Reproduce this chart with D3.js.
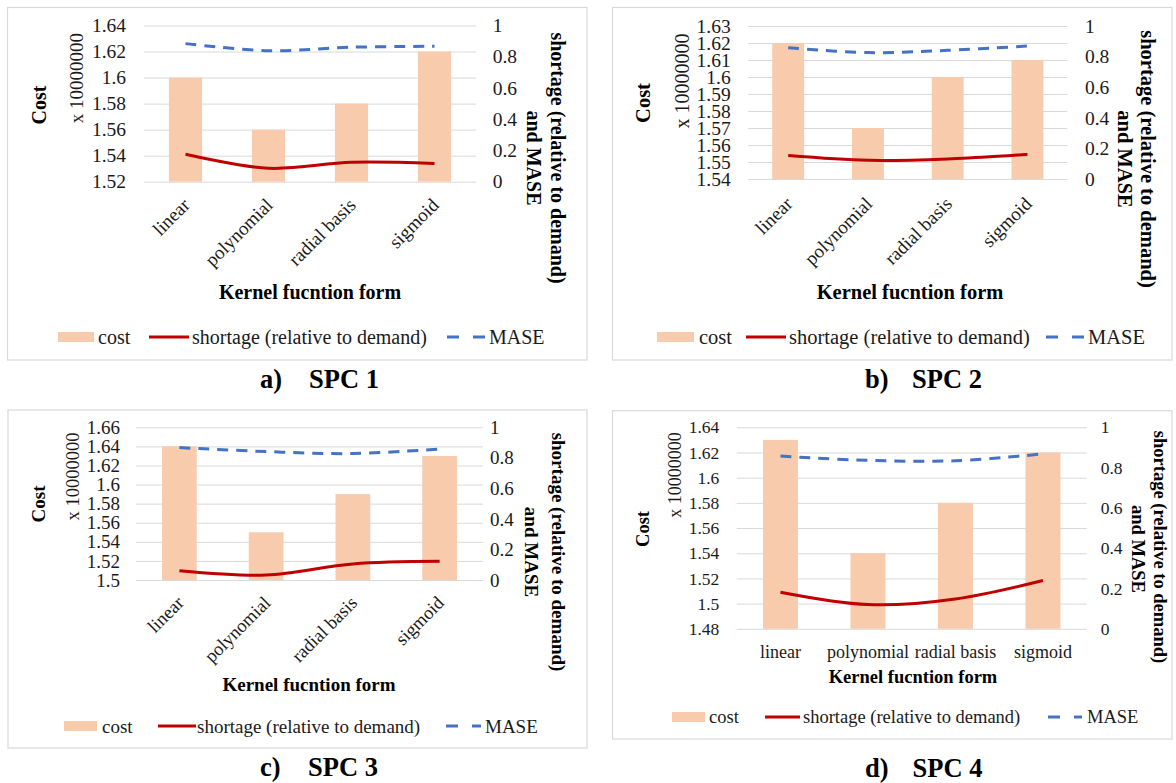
<!DOCTYPE html>
<html>
<head>
<meta charset="utf-8">
<script src="https://cdn.jsdelivr.net/npm/d3@7"></script>
<style>
  html, body { margin: 0; padding: 0; background: #ffffff; }
  svg { display: block; }
  text { font-family: "Liberation Serif", "Times New Roman", serif; }
</style>
</head>
<body>
<svg id="chart" width="1176" height="783"></svg>
<script>
// ---------------- DATA ----------------
const categories = ["linear", "polynomial", "radial basis", "sigmoid"];

const costA = [1.60, 1.56, 1.58, 1.62];
const shortageA = [0.176, 0.086, 0.124, 0.116];
const maseA = [0.884, 0.839, 0.861, 0.867];

const costB = [1.62, 1.57, 1.60, 1.61];
const shortageB = [0.153, 0.122, 0.131, 0.161];
const maseB = [0.858, 0.826, 0.841, 0.869];

const costC = [1.64, 1.55, 1.59, 1.63];
const shortageC = [0.061, 0.033, 0.105, 0.122];
const maseC = [0.867, 0.841, 0.828, 0.858];

const costD = [1.63, 1.54, 1.58, 1.62];
const shortageD = [0.181, 0.120, 0.148, 0.240];
const maseD = [0.857, 0.836, 0.834, 0.868];

const leftTicksA = [1.52, 1.54, 1.56, 1.58, 1.60, 1.62, 1.64];
const leftTicksB = [1.54, 1.55, 1.56, 1.57, 1.58, 1.59, 1.60, 1.61, 1.62, 1.63];
const leftTicksC = [1.50, 1.52, 1.54, 1.56, 1.58, 1.60, 1.62, 1.64, 1.66];
const leftTicksD = [1.48, 1.50, 1.52, 1.54, 1.56, 1.58, 1.60, 1.62, 1.64];
const rightTicks = [0, 0.2, 0.4, 0.6, 0.8, 1];

const captionLetters = ["a)", "b)", "c)", "d)"];
const captionNames = ["SPC 1", "SPC 2", "SPC 3", "SPC 4"];
const legendLabels = ["cost", "shortage (relative to demand)", "MASE"];
const costTitle = "Cost";
const unitTitle = "x 10000000";
const rightTitle1 = "shortage (relative to demand)";
const rightTitle2 = "and MASE";
const xTitle = "Kernel fucntion form";

// ---------------- LAYOUT (positions / styles) ----------------
const layouts = [
  { box: [7.5, 7.5, 587, 360], plot: [144, 476, 25.5, 181.7], leftLabX: 126, rightLabX: 492.7,
    cost: [39, 105], unit: [76, 78], rt1: [558, 158], rt2: [534, 158], xt: [310, 292],
    rotated: true, xlabDx: 5.5, xlabDy: 24.5,
    legendY: 337, leg: { sw: [58, 36], cost: 98, line: [149, 189], lineText: 192, dash: [447, 485], mase: 489 },
    cap: [260, 309, 379], fs: { tick: 19.5, unit: 19, legend: 20, title: 20, xlab: 19 } },
  { box: [612.5, 7.5, 1172, 360], plot: [748.3, 1067.3, 26, 179], leftLabX: 730.7, rightLabX: 1085,
    cost: [643, 103], unit: [681.7, 81], rt1: [1148.3, 159], rt2: [1125, 159], xt: [910, 292],
    rotated: true, xlabDx: 5.5, xlabDy: 26,
    legendY: 337, leg: { sw: [657, 37], cost: 699, line: [746, 786], lineText: 789, dash: [1046, 1084], mase: 1088 },
    cap: [865, 912, 379], fs: { tick: 19.5, unit: 20, legend: 20.5, title: 20.5, xlab: 19 } },
  { box: [8, 410, 587, 748], plot: [136, 483, 427.3, 580], leftLabX: 120, rightLabX: 490,
    cost: [38, 504], unit: [73, 476.5], rt1: [558, 552], rt2: [531, 552], xt: [309, 684],
    rotated: true, xlabDx: 5.5, xlabDy: 24,
    legendY: 726, leg: { sw: [64, 33], cost: 102, line: [158, 196], lineText: 197, dash: [446, 481], mase: 485 },
    cap: [260, 308, 767], fs: { tick: 19, unit: 18.5, legend: 19, title: 19, xlab: 18.5 } },
  { box: [612.5, 410.7, 1172, 739], plot: [736.7, 1086.7, 427.3, 628.8], leftLabX: 719.3, rightLabX: 1100.7,
    cost: [643, 529], unit: [675, 475], rt1: [1160, 547], rt2: [1138, 549], xt: [913, 677],
    rotated: false, xlabY: 651.7,
    legendY: 717, leg: { sw: [672, 33], cost: 709, line: [765, 800], lineText: 803, dash: [1048, 1082], mase: 1087 },
    cap: [865, 912.5, 768], fs: { tick: 17.5, unit: 18, legend: 18.5, title: 18.5, xlab: 18 } }
];

const panels = [
  { cost: costA, shortage: shortageA, mase: maseA, ticks: leftTicksA },
  { cost: costB, shortage: shortageB, mase: maseB, ticks: leftTicksB },
  { cost: costC, shortage: shortageC, mase: maseC, ticks: leftTicksC },
  { cost: costD, shortage: shortageD, mase: maseD, ticks: leftTicksD }
];

const COLORS = { bar: "#F8CBAD", red: "#C00000", blue: "#4472C4", grid: "#D9D9D9", border: "#D9D9D9", text: "#1a1a1a" };
const DASH = "11,8";

const svg = d3.select("#chart");
const fmtLeft = v => String(+v.toFixed(2));
const fmtRight = v => String(+v.toFixed(1));

panels.forEach((p, i) => {
  const L = layouts[i];
  const g = svg.append("g");

  // border
  g.append("rect")
    .attr("x", L.box[0]).attr("y", L.box[1])
    .attr("width", L.box[2] - L.box[0]).attr("height", L.box[3] - L.box[1])
    .attr("fill", "none").attr("stroke", COLORS.border).attr("stroke-width", 1.2);

  const [px0, px1, pyTop, pyBot] = L.plot;
  const x = d3.scaleBand().domain(categories).range([px0, px1]).paddingInner(0.6).paddingOuter(0.3);
  const yL = d3.scaleLinear().domain([p.ticks[0], p.ticks[p.ticks.length - 1]]).range([pyBot, pyTop]);
  const yR = d3.scaleLinear().domain([0, 1]).range([pyBot, pyTop]);

  // left axis with gridlines
  const axL = g.append("g").attr("transform", `translate(${px0},0)`)
    .call(d3.axisLeft(yL).tickValues(p.ticks).tickFormat(fmtLeft)
      .tickSize(-(px1 - px0)).tickPadding(px0 - L.leftLabX));
  axL.select(".domain").remove();
  axL.selectAll(".tick line").attr("stroke", COLORS.grid).attr("stroke-width", 1);
  axL.selectAll(".tick text").attr("font-size", L.fs.tick).attr("fill", COLORS.text)
    .style("font-family", '"Liberation Serif", "Times New Roman", serif');

  // right axis labels
  const axR = g.append("g").attr("transform", `translate(${px1},0)`)
    .call(d3.axisRight(yR).tickValues(rightTicks).tickFormat(fmtRight)
      .tickSize(0).tickPadding(L.rightLabX - px1));
  axR.select(".domain").remove();
  axR.selectAll(".tick line").remove();
  axR.selectAll(".tick text").attr("font-size", L.fs.tick).attr("fill", COLORS.text)
    .style("font-family", '"Liberation Serif", "Times New Roman", serif');

  // bars
  g.append("g").selectAll("rect").data(categories).join("rect")
    .attr("x", c => x(c))
    .attr("width", x.bandwidth())
    .attr("y", (c, k) => yL(p.cost[k]))
    .attr("height", (c, k) => yL(p.ticks[0]) - yL(p.cost[k]))
    .attr("fill", COLORS.bar);

  const cx = c => x(c) + x.bandwidth() / 2;
  const line = d3.line().curve(d3.curveCardinal.tension(0));

  // MASE dashed
  g.append("path")
    .attr("d", line(categories.map((c, k) => [cx(c), yR(p.mase[k])])))
    .attr("fill", "none").attr("stroke", COLORS.blue).attr("stroke-width", 3)
    .attr("stroke-dasharray", DASH);

  // shortage solid
  g.append("path")
    .attr("d", line(categories.map((c, k) => [cx(c), yR(p.shortage[k])])))
    .attr("fill", "none").attr("stroke", COLORS.red).attr("stroke-width", 3);

  // x labels
  if (L.rotated) {
    g.append("g").selectAll("text").data(categories).join("text")
      .attr("transform", c => `translate(${cx(c) + L.xlabDx},${pyBot + L.xlabDy}) rotate(-45)`)
      .attr("text-anchor", "end").attr("font-size", L.fs.xlab).attr("fill", COLORS.text)
      .text(c => c);
  } else {
    g.append("g").selectAll("text").data(categories).join("text")
      .attr("x", c => cx(c)).attr("y", L.xlabY)
      .attr("text-anchor", "middle").attr("dominant-baseline", "central")
      .attr("font-size", L.fs.xlab).attr("fill", COLORS.text)
      .text(c => c);
  }

  // axis titles
  g.append("text")
    .attr("transform", `translate(${L.cost[0]},${L.cost[1]}) rotate(-90)`)
    .attr("text-anchor", "middle").attr("dominant-baseline", "central")
    .attr("font-weight", "bold").attr("font-size", L.fs.title).attr("fill", "#000")
    .text(costTitle);
  g.append("text")
    .attr("transform", `translate(${L.unit[0]},${L.unit[1]}) rotate(-90)`)
    .attr("text-anchor", "middle").attr("dominant-baseline", "central")
    .attr("font-size", L.fs.unit).attr("fill", COLORS.text)
    .text(unitTitle);
  g.append("text")
    .attr("transform", `translate(${L.rt1[0]},${L.rt1[1]}) rotate(90)`)
    .attr("text-anchor", "middle").attr("dominant-baseline", "central")
    .attr("font-weight", "bold").attr("font-size", L.fs.title).attr("fill", "#000")
    .text(rightTitle1);
  g.append("text")
    .attr("transform", `translate(${L.rt2[0]},${L.rt2[1]}) rotate(90)`)
    .attr("text-anchor", "middle").attr("dominant-baseline", "central")
    .attr("font-weight", "bold").attr("font-size", L.fs.title).attr("fill", "#000")
    .text(rightTitle2);
  g.append("text")
    .attr("x", L.xt[0]).attr("y", L.xt[1])
    .attr("text-anchor", "middle").attr("dominant-baseline", "central")
    .attr("font-weight", "bold").attr("font-size", L.fs.title).attr("fill", "#000")
    .text(xTitle);

  // legend
  const ly = L.legendY;
  const lg = g.append("g");
  lg.append("rect").attr("x", L.leg.sw[0]).attr("y", ly - 5).attr("width", L.leg.sw[1]).attr("height", 10)
    .attr("fill", COLORS.bar);
  lg.append("text").attr("x", L.leg.cost).attr("y", ly).attr("dominant-baseline", "central")
    .attr("font-size", L.fs.legend).attr("fill", COLORS.text).text(legendLabels[0]);
  lg.append("line").attr("x1", L.leg.line[0]).attr("x2", L.leg.line[1]).attr("y1", ly).attr("y2", ly)
    .attr("stroke", COLORS.red).attr("stroke-width", 3);
  lg.append("text").attr("x", L.leg.lineText).attr("y", ly).attr("dominant-baseline", "central")
    .attr("font-size", L.fs.legend).attr("fill", COLORS.text).text(legendLabels[1]);
  lg.append("line").attr("x1", L.leg.dash[0]).attr("x2", L.leg.dash[1]).attr("y1", ly).attr("y2", ly)
    .attr("stroke", COLORS.blue).attr("stroke-width", 3).attr("stroke-dasharray", "12,14");
  lg.append("text").attr("x", L.leg.mase).attr("y", ly).attr("dominant-baseline", "central")
    .attr("font-size", L.fs.legend).attr("fill", COLORS.text).text(legendLabels[2]);

  // caption
  svg.append("text").attr("x", L.cap[0]).attr("y", L.cap[2]).attr("dominant-baseline", "central")
    .attr("font-weight", "bold").attr("font-size", 26.5).attr("fill", "#000").text(captionLetters[i]);
  svg.append("text").attr("x", L.cap[1]).attr("y", L.cap[2]).attr("dominant-baseline", "central")
    .attr("font-weight", "bold").attr("font-size", 26.5).attr("fill", "#000").text(captionNames[i]);
});
</script>
</body>
</html>
